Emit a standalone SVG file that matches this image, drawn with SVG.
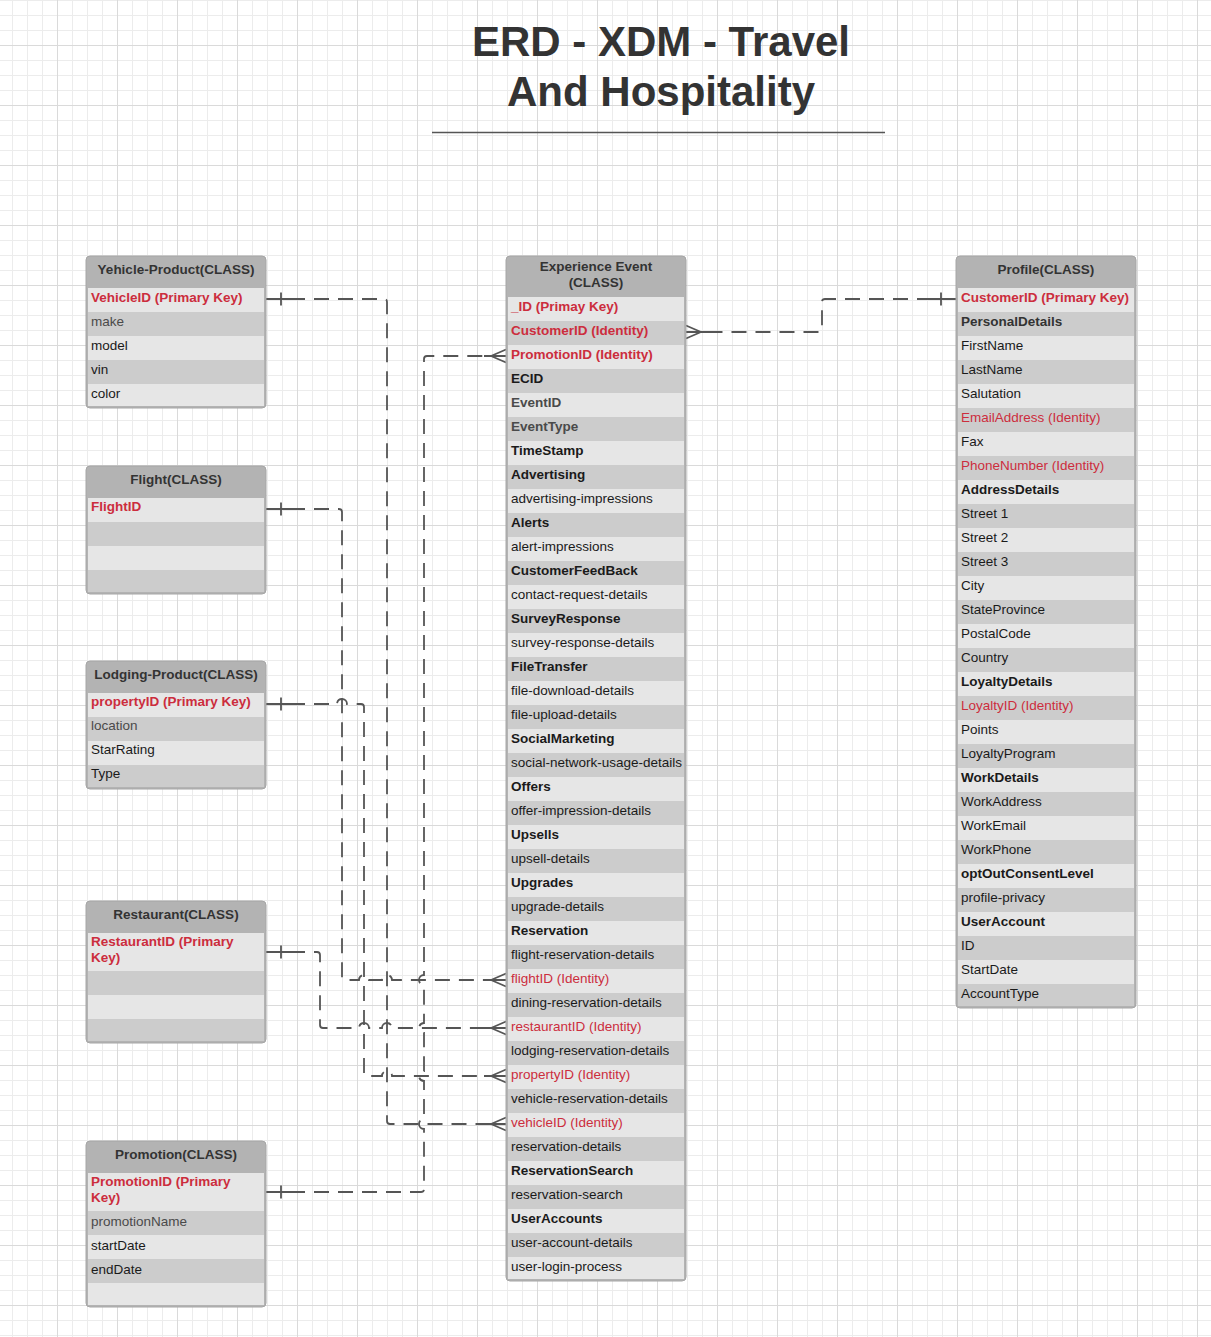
<svg xmlns="http://www.w3.org/2000/svg" width="1211" height="1337" viewBox="0 0 1211 1337">
<style>
.frame{fill:#b3b3b3;stroke:#a6a6a6;stroke-width:1}
.rl{fill:#e6e6e6}
.rd{fill:#cccccc}
.t{font-family:"Liberation Sans",Arial,sans-serif;font-size:13.5px;fill:#1a1a1a;transform:translateY(-1px)}
.b{font-weight:bold}
.red{fill:#cc2d3d}
.g{fill:#4a4a4a}
.h{font-family:"Liberation Sans",Arial,sans-serif;font-size:13.5px;font-weight:bold;fill:#333;text-anchor:middle;transform:translateY(-1px)}
.title{font-family:"Liberation Sans",Arial,sans-serif;font-size:42px;font-weight:bold;fill:#333;text-anchor:middle}
.conn{fill:none;stroke:#555;stroke-width:1.8;stroke-dasharray:15 9}
.mk{fill:none;stroke:#555;stroke-width:1.8}
</style>
<defs>
<pattern id="grid" patternUnits="userSpaceOnUse" x="12" y="0" width="60" height="60">
<rect width="60" height="60" fill="#fff"/>
<path d="M0.5,0V60M15.5,0V60M30.5,0V60M0,0.5H60M0,15.5H60M0,30.5H60" stroke="#ececec" stroke-width="1"/>
<path d="M45.5,0V60M0,45.5H60" stroke="#dadada" stroke-width="1"/>
</pattern>
<marker id="one" markerUnits="userSpaceOnUse" orient="auto" refX="0" refY="0" markerWidth="1" markerHeight="1" overflow="visible">
<path class="mk" d="M0,0H27M15,-6.5V6.5"/>
</marker>
<marker id="many" markerUnits="userSpaceOnUse" orient="auto" refX="0" refY="0" markerWidth="1" markerHeight="1" overflow="visible">
<path class="mk" d="M-22,0H0M-15,0L0,-6.5M-15,0L0,6.5"/>
</marker>
</defs>
<rect width="1211" height="1337" fill="url(#grid)"/>

<g id="title">
<text class="title" x="661" y="56">ERD - XDM - Travel</text>
<text class="title" x="661" y="106">And Hospitality</text>
<line x1="432" y1="132.5" x2="885" y2="132.5" stroke="#555" stroke-width="1.5"/>
</g>

<g id="connectors">
<path class="conn" marker-start="url(#one)" marker-end="url(#many)" d="M266,299H384Q387,299 387,302V1121Q387,1124 390,1124H506"/>
<path class="conn" marker-start="url(#one)" marker-end="url(#many)" d="M266,509H339Q342,509 342,512V977Q342,980 345,980H359A5,5 0 0 1 369,980H382A5,5 0 0 1 392,980H506"/>
<path class="conn" marker-start="url(#one)" marker-end="url(#many)" d="M266,704H337A5,5 0 0 1 347,704H361Q364,704 364,707V1073Q364,1076 367,1076H382A5,5 0 0 1 392,1076H506"/>
<path class="conn" marker-start="url(#one)" marker-end="url(#many)" d="M266,952H317Q320,952 320,955V1025Q320,1028 323,1028H359A5,5 0 0 1 369,1028H382A5,5 0 0 1 392,1028H506"/>
<path class="conn" marker-start="url(#one)" marker-end="url(#many)" d="M266,1192H421Q424,1192 424,1189V1129A5,5 0 0 1 424,1119V1081A5,5 0 0 1 424,1071V1033A5,5 0 0 1 424,1023V985A5,5 0 0 1 424,975V359Q424,356 427,356H506"/>
<path class="conn" marker-start="url(#one)" marker-end="url(#many)" d="M956,299H825Q822,299 822,302V329Q822,332 819,332H686"/>
</g>

<g id="vehicle-product">
<rect class="frame" x="86" y="256" width="180" height="152" rx="4"/>
<text class="h" x="176" y="275">Yehicle-Product(CLASS)</text>
<rect class="rl" x="88" y="288" width="176" height="24"/>
<rect class="rd" x="88" y="312" width="176" height="24"/>
<rect class="rl" x="88" y="336" width="176" height="24"/>
<rect class="rd" x="88" y="360" width="176" height="24"/>
<rect class="rl" x="88" y="384" width="176" height="22"/>
<text class="t b red" x="91" y="303">VehicleID (Primary Key)</text>
<text class="t g" x="91" y="327">make</text>
<text class="t" x="91" y="351">model</text>
<text class="t" x="91" y="375">vin</text>
<text class="t" x="91" y="399">color</text>
</g>

<g id="flight">
<rect class="frame" x="86" y="466" width="180" height="128" rx="4"/>
<text class="h" x="176" y="485">Flight(CLASS)</text>
<rect class="rl" x="88" y="498" width="176" height="24"/>
<rect class="rd" x="88" y="522" width="176" height="24"/>
<rect class="rl" x="88" y="546" width="176" height="24"/>
<rect class="rd" x="88" y="570" width="176" height="22"/>
<text class="t b red" x="91" y="512">FlightID</text>
</g>

<g id="lodging-product">
<rect class="frame" x="86" y="661" width="180" height="128" rx="4"/>
<text class="h" x="176" y="680">Lodging-Product(CLASS)</text>
<rect class="rl" x="88" y="693" width="176" height="24"/>
<rect class="rd" x="88" y="717" width="176" height="24"/>
<rect class="rl" x="88" y="741" width="176" height="24"/>
<rect class="rd" x="88" y="765" width="176" height="22"/>
<text class="t b red" x="91" y="707">propertyID (Primary Key)</text>
<text class="t g" x="91" y="731">location</text>
<text class="t" x="91" y="755">StarRating</text>
<text class="t" x="91" y="779">Type</text>
</g>

<g id="restaurant">
<rect class="frame" x="86" y="901" width="180" height="142" rx="4"/>
<text class="h" x="176" y="920">Restaurant(CLASS)</text>
<rect class="rl" x="88" y="933" width="176" height="38"/>
<rect class="rd" x="88" y="971" width="176" height="24"/>
<rect class="rl" x="88" y="995" width="176" height="24"/>
<rect class="rd" x="88" y="1019" width="176" height="22"/>
<text class="t b red" x="91" y="947">RestaurantID (Primary</text>
<text class="t b red" x="91" y="963">Key)</text>
</g>

<g id="promotion">
<rect class="frame" x="86" y="1141" width="180" height="166" rx="4"/>
<text class="h" x="176" y="1160">Promotion(CLASS)</text>
<rect class="rl" x="88" y="1173" width="176" height="38"/>
<rect class="rd" x="88" y="1211" width="176" height="24"/>
<rect class="rl" x="88" y="1235" width="176" height="24"/>
<rect class="rd" x="88" y="1259" width="176" height="24"/>
<rect class="rl" x="88" y="1283" width="176" height="22"/>
<text class="t b red" x="91" y="1187">PromotionID (Primary</text>
<text class="t b red" x="91" y="1203">Key)</text>
<text class="t g" x="91" y="1227">promotionName</text>
<text class="t" x="91" y="1251">startDate</text>
<text class="t" x="91" y="1275">endDate</text>
</g>

<g id="experience-event">
<rect class="frame" x="506" y="256" width="180" height="1025" rx="4"/>
<text class="h" x="596" y="272">Experience Event</text>
<text class="h" x="596" y="288">(CLASS)</text>
<rect class="rl" x="508" y="297" width="176" height="24"/>
<rect class="rd" x="508" y="321" width="176" height="24"/>
<rect class="rl" x="508" y="345" width="176" height="24"/>
<rect class="rd" x="508" y="369" width="176" height="24"/>
<rect class="rl" x="508" y="393" width="176" height="24"/>
<rect class="rd" x="508" y="417" width="176" height="24"/>
<rect class="rl" x="508" y="441" width="176" height="24"/>
<rect class="rd" x="508" y="465" width="176" height="24"/>
<rect class="rl" x="508" y="489" width="176" height="24"/>
<rect class="rd" x="508" y="513" width="176" height="24"/>
<rect class="rl" x="508" y="537" width="176" height="24"/>
<rect class="rd" x="508" y="561" width="176" height="24"/>
<rect class="rl" x="508" y="585" width="176" height="24"/>
<rect class="rd" x="508" y="609" width="176" height="24"/>
<rect class="rl" x="508" y="633" width="176" height="24"/>
<rect class="rd" x="508" y="657" width="176" height="24"/>
<rect class="rl" x="508" y="681" width="176" height="24"/>
<rect class="rd" x="508" y="705" width="176" height="24"/>
<rect class="rl" x="508" y="729" width="176" height="24"/>
<rect class="rd" x="508" y="753" width="176" height="24"/>
<rect class="rl" x="508" y="777" width="176" height="24"/>
<rect class="rd" x="508" y="801" width="176" height="24"/>
<rect class="rl" x="508" y="825" width="176" height="24"/>
<rect class="rd" x="508" y="849" width="176" height="24"/>
<rect class="rl" x="508" y="873" width="176" height="24"/>
<rect class="rd" x="508" y="897" width="176" height="24"/>
<rect class="rl" x="508" y="921" width="176" height="24"/>
<rect class="rd" x="508" y="945" width="176" height="24"/>
<rect class="rl" x="508" y="969" width="176" height="24"/>
<rect class="rd" x="508" y="993" width="176" height="24"/>
<rect class="rl" x="508" y="1017" width="176" height="24"/>
<rect class="rd" x="508" y="1041" width="176" height="24"/>
<rect class="rl" x="508" y="1065" width="176" height="24"/>
<rect class="rd" x="508" y="1089" width="176" height="24"/>
<rect class="rl" x="508" y="1113" width="176" height="24"/>
<rect class="rd" x="508" y="1137" width="176" height="24"/>
<rect class="rl" x="508" y="1161" width="176" height="24"/>
<rect class="rd" x="508" y="1185" width="176" height="24"/>
<rect class="rl" x="508" y="1209" width="176" height="24"/>
<rect class="rd" x="508" y="1233" width="176" height="24"/>
<rect class="rl" x="508" y="1257" width="176" height="22"/>
<text class="t b red" x="511" y="312">_ID (Primay Key)</text>
<text class="t b red" x="511" y="336">CustomerID (Identity)</text>
<text class="t b red" x="511" y="360">PromotionID (Identity)</text>
<text class="t b" x="511" y="384">ECID</text>
<text class="t b g" x="511" y="408">EventID</text>
<text class="t b g" x="511" y="432">EventType</text>
<text class="t b" x="511" y="456">TimeStamp</text>
<text class="t b" x="511" y="480">Advertising</text>
<text class="t" x="511" y="504">advertising-impressions</text>
<text class="t b" x="511" y="528">Alerts</text>
<text class="t" x="511" y="552">alert-impressions</text>
<text class="t b" x="511" y="576">CustomerFeedBack</text>
<text class="t" x="511" y="600">contact-request-details</text>
<text class="t b" x="511" y="624">SurveyResponse</text>
<text class="t" x="511" y="648">survey-response-details</text>
<text class="t b" x="511" y="672">FileTransfer</text>
<text class="t" x="511" y="696">file-download-details</text>
<text class="t" x="511" y="720">file-upload-details</text>
<text class="t b" x="511" y="744">SocialMarketing</text>
<text class="t" x="511" y="768">social-network-usage-details</text>
<text class="t b" x="511" y="792">Offers</text>
<text class="t" x="511" y="816">offer-impression-details</text>
<text class="t b" x="511" y="840">Upsells</text>
<text class="t" x="511" y="864">upsell-details</text>
<text class="t b" x="511" y="888">Upgrades</text>
<text class="t" x="511" y="912">upgrade-details</text>
<text class="t b" x="511" y="936">Reservation</text>
<text class="t" x="511" y="960">flight-reservation-details</text>
<text class="t red" x="511" y="984">flightID (Identity)</text>
<text class="t" x="511" y="1008">dining-reservation-details</text>
<text class="t red" x="511" y="1032">restaurantID (Identity)</text>
<text class="t" x="511" y="1056">lodging-reservation-details</text>
<text class="t red" x="511" y="1080">propertyID (Identity)</text>
<text class="t" x="511" y="1104">vehicle-reservation-details</text>
<text class="t red" x="511" y="1128">vehicleID (Identity)</text>
<text class="t" x="511" y="1152">reservation-details</text>
<text class="t b" x="511" y="1176">ReservationSearch</text>
<text class="t" x="511" y="1200">reservation-search</text>
<text class="t b" x="511" y="1224">UserAccounts</text>
<text class="t" x="511" y="1248">user-account-details</text>
<text class="t" x="511" y="1272">user-login-process</text>
</g>

<g id="profile">
<rect class="frame" x="956" y="256" width="180" height="752" rx="4"/>
<text class="h" x="1046" y="275">Profile(CLASS)</text>
<rect class="rl" x="958" y="288" width="176" height="24"/>
<rect class="rd" x="958" y="312" width="176" height="24"/>
<rect class="rl" x="958" y="336" width="176" height="24"/>
<rect class="rd" x="958" y="360" width="176" height="24"/>
<rect class="rl" x="958" y="384" width="176" height="24"/>
<rect class="rd" x="958" y="408" width="176" height="24"/>
<rect class="rl" x="958" y="432" width="176" height="24"/>
<rect class="rd" x="958" y="456" width="176" height="24"/>
<rect class="rl" x="958" y="480" width="176" height="24"/>
<rect class="rd" x="958" y="504" width="176" height="24"/>
<rect class="rl" x="958" y="528" width="176" height="24"/>
<rect class="rd" x="958" y="552" width="176" height="24"/>
<rect class="rl" x="958" y="576" width="176" height="24"/>
<rect class="rd" x="958" y="600" width="176" height="24"/>
<rect class="rl" x="958" y="624" width="176" height="24"/>
<rect class="rd" x="958" y="648" width="176" height="24"/>
<rect class="rl" x="958" y="672" width="176" height="24"/>
<rect class="rd" x="958" y="696" width="176" height="24"/>
<rect class="rl" x="958" y="720" width="176" height="24"/>
<rect class="rd" x="958" y="744" width="176" height="24"/>
<rect class="rl" x="958" y="768" width="176" height="24"/>
<rect class="rd" x="958" y="792" width="176" height="24"/>
<rect class="rl" x="958" y="816" width="176" height="24"/>
<rect class="rd" x="958" y="840" width="176" height="24"/>
<rect class="rl" x="958" y="864" width="176" height="24"/>
<rect class="rd" x="958" y="888" width="176" height="24"/>
<rect class="rl" x="958" y="912" width="176" height="24"/>
<rect class="rd" x="958" y="936" width="176" height="24"/>
<rect class="rl" x="958" y="960" width="176" height="24"/>
<rect class="rd" x="958" y="984" width="176" height="22"/>
<text class="t b red" x="961" y="303">CustomerID (Primary Key)</text>
<text class="t b" x="961" y="327" style="fill:#333">PersonalDetails</text>
<text class="t" x="961" y="351">FirstName</text>
<text class="t" x="961" y="375">LastName</text>
<text class="t" x="961" y="399">Salutation</text>
<text class="t red" x="961" y="423">EmailAddress (Identity)</text>
<text class="t" x="961" y="447">Fax</text>
<text class="t red" x="961" y="471">PhoneNumber (Identity)</text>
<text class="t b" x="961" y="495">AddressDetails</text>
<text class="t" x="961" y="519">Street 1</text>
<text class="t" x="961" y="543">Street 2</text>
<text class="t" x="961" y="567">Street 3</text>
<text class="t" x="961" y="591">City</text>
<text class="t" x="961" y="615">StateProvince</text>
<text class="t" x="961" y="639">PostalCode</text>
<text class="t" x="961" y="663">Country</text>
<text class="t b" x="961" y="687">LoyaltyDetails</text>
<text class="t red" x="961" y="711">LoyaltyID (Identity)</text>
<text class="t" x="961" y="735">Points</text>
<text class="t" x="961" y="759">LoyaltyProgram</text>
<text class="t b" x="961" y="783">WorkDetails</text>
<text class="t" x="961" y="807">WorkAddress</text>
<text class="t" x="961" y="831">WorkEmail</text>
<text class="t" x="961" y="855">WorkPhone</text>
<text class="t b" x="961" y="879">optOutConsentLevel</text>
<text class="t" x="961" y="903">profile-privacy</text>
<text class="t b" x="961" y="927">UserAccount</text>
<text class="t" x="961" y="951">ID</text>
<text class="t" x="961" y="975">StartDate</text>
<text class="t" x="961" y="999">AccountType</text>
</g>
</svg>
